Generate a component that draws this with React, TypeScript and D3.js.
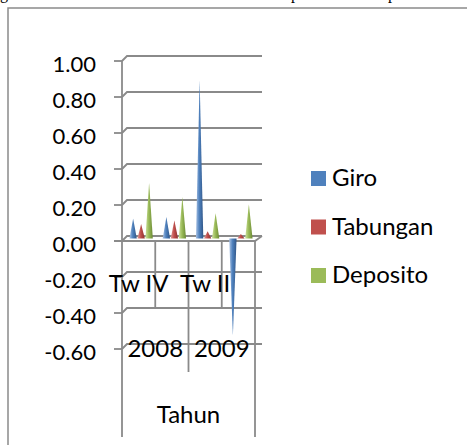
import React from 'react'
import { scaleLinear, scaleBand, range } from 'd3'

const quarters = ['Tw IV', 'Tw I', 'Tw II', 'Tw III']
const years = ['2008', '2008', '2009', '2009']
const yearGroups = ['2008', '2009']
const axisTitle = 'Tahun'
const seriesNames = ['Giro', 'Tabungan', 'Deposito']
const giro = [0.11, 0.12, 0.88, -0.54]
const tabungan = [0.08, 0.1, 0.04, 0.025]
const deposito = [0.31, 0.23, 0.14, 0.19]
const yTicks = [1.0, 0.8, 0.6, 0.4, 0.2, 0.0, -0.2, -0.4, -0.6]

const colors = ['#4F81BD', '#C0504D', '#9BBB59']
const lights = ['#a9c2e4', '#e39a98', '#cfe3a0']
const darks = ['#2f5587', '#8e2f2d', '#6a8a33']

const W = 467
const H = 445
const FONT = 'Lato, "Open Sans", sans-serif'
const GRID = '#8a8a8a'

export default function App() {
  const values = [giro, tabungan, deposito]
  const y = scaleLinear().domain([-0.6, 1.0]).range([349, 61])
  const x = scaleBand().domain(range(quarters.length).map(String)).range([122, 255])
  const inner = scaleBand().domain(seriesNames).range([0, x.bandwidth()]).paddingOuter(0.58)
  const depthX = 5 // back wall offset
  const depthY = -5
  const coneDx = 2.5
  const coneDy = -2.5
  const right = 255
  const y0 = y(0)

  return (
    <svg width={W} height={H} style={{ position: 'absolute', left: 0, top: 0 }} fontFamily={FONT}>
      <defs>
        {seriesNames.map((s, i) => (
          <linearGradient key={s} id={'g' + i} x1="0" x2="1" y1="0" y2="0">
            <stop offset="0%" stopColor={lights[i]} />
            <stop offset="45%" stopColor={colors[i]} />
            <stop offset="100%" stopColor={darks[i]} />
          </linearGradient>
        ))}
      </defs>

      {/* caption descenders cut at top of page */}
      <g fontFamily='"Liberation Serif", serif' fontSize={16} fill="#000">
        <text x={0} y={-1}>g</text>
        <text x={291} y={-1}>p</text>
        <text x={388} y={-1}>p</text>
      </g>

      {/* chart frame */}
      <path d={`M8,${H} V8 H${W}`} fill="none" stroke={GRID} strokeWidth={1.5} />

      {/* back wall gridlines */}
      {yTicks.map(t => (
        <g key={t} stroke={GRID} strokeWidth={1.8} fill="none">
          <line x1={114} x2={122} y1={y(t)} y2={y(t)} />
          <path d={`M122,${y(t)} L${122 + depthX},${y(t) + depthY} H${right + 7}`} />
        </g>
      ))}

      {/* floor front edge */}
      <path d={`M114,${y0} H${right} L${right + 7},${y0 + depthY}`} stroke={GRID} strokeWidth={1.8} fill="none" />

      {/* axis and category dividers */}
      <g stroke={GRID} strokeWidth={1.8}>
        <line x1={122} x2={122} y1={y(1)} y2={437} />
        <line x1={right} x2={right} y1={y0} y2={437} />
        {quarters.map((q, i) => {
          if (i === 0) return null
          const xx = x(String(i))!
          const bottom = years[i] !== years[i - 1] ? 372 : 307
          return <line key={q} x1={xx} x2={xx} y1={y0} y2={bottom} />
        })}
      </g>

      {/* cones */}
      {values.map((vals, si) =>
        vals.map((v, ci) => {
          const cx = x(String(ci))! + inner(seriesNames[si])! + inner.bandwidth() / 2 + coneDx
          const hw = inner.bandwidth() * 0.46
          const base = y0 + coneDy
          const apex = y(v) + coneDy
          return (
            <path
              key={si + '-' + ci}
              d={`M${cx - hw},${base} L${cx},${apex} L${cx + hw},${base} Z`}
              fill={`url(#g${si})`}
            />
          )
        })
      )}

      {/* y labels */}
      <g fontSize={22} fill="#000" textAnchor="end">
        {yTicks.map(t => (
          <text key={t} x={96} y={y(t) + 10.5}>{t.toFixed(2)}</text>
        ))}
      </g>

      {/* category labels */}
      <g fontSize={24} fill="#000" textAnchor="middle">
        {quarters.map((q, i) =>
          i % 2 === 0 ? (
            <text key={q} x={x(String(i))! + x.bandwidth() / 2} y={292}>{q}</text>
          ) : null
        )}
        {yearGroups.map(g => {
          const idx = years.map((yy, i) => (yy === g ? i : -1)).filter(i => i >= 0)
          const x1 = x(String(idx[0]))!
          const x2 = x(String(idx[idx.length - 1]))! + x.bandwidth()
          return <text key={g} x={(x1 + x2) / 2} y={357}>{g}</text>
        })}
        <text x={(122 + right) / 2} y={423}>{axisTitle}</text>
      </g>

      {/* legend */}
      <g fontSize={24} fill="#000">
        {seriesNames.map((s, i) => (
          <g key={s} transform={`translate(311,${171 + i * 48.5})`}>
            <rect width={15} height={15} fill={colors[i]} />
            <text x={21} y={15}>{s}</text>
          </g>
        ))}
      </g>
    </svg>
  )
}
